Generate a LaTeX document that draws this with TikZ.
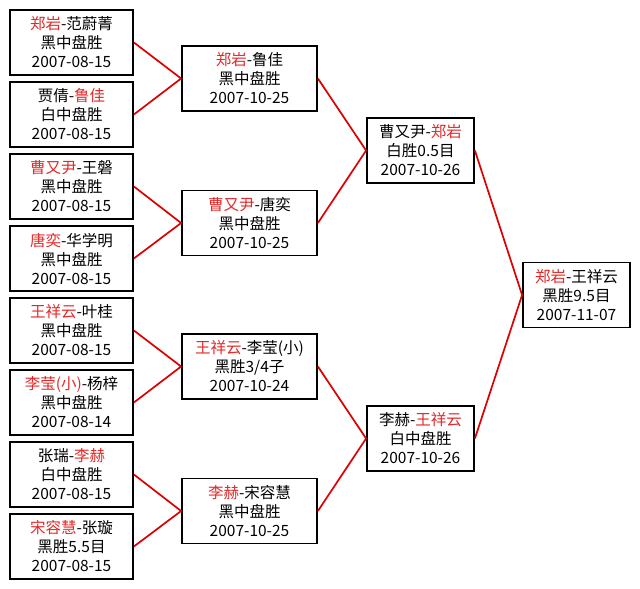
\documentclass[tikz,border=0pt]{standalone}
\usepackage{fontspec}
\setmainfont{Noto Sans CJK SC}
\usepackage{tikz}
\usetikzlibrary{positioning}

\definecolor{winred}{RGB}{228,40,40}
\definecolor{linered}{RGB}{222,0,0}
\newcommand{\win}[1]{\textcolor{winred}{#1}}

\begin{document}
\begin{tikzpicture}[
        x=1pt, y=-1pt,
        gamebox/.style={rectangle, draw=black, fill=white, line width=1.8pt, minimum height=65pt, align=center, inner sep=0pt, font=\fontsize{15.5}{19}\selectfont},
        firstbox/.style={gamebox, minimum width=123pt},
        secondbox/.style={gamebox, minimum width=135pt},
        thirdbox/.style={gamebox, minimum width=107pt},
        winline/.style={draw=linered, line width=1.7pt}
    ]
        \useasboundingbox (0,0) rectangle (640,589);

        % first round
        \node[firstbox] (f1) at (71.5,42.5) {\win{郑岩}-范蔚菁\\黑中盘胜\\2007-08-15};
        \node[firstbox] (f2) at (71.5,114.5) {贾倩-\win{鲁佳}\\白中盘胜\\2007-08-15};
        \node[firstbox] (f3) at (71.5,186.5) {\win{曹又尹}-王磐\\黑中盘胜\\2007-08-15};
        \node[firstbox] (f4) at (71.5,258.5) {\win{唐奕}-华学明\\黑中盘胜\\2007-08-15};
        \node[firstbox] (f5) at (71.5,330.5) {\win{王祥云}-叶桂\\黑中盘胜\\2007-08-15};
        \node[firstbox] (f6) at (71.5,402.5) {\win{李莹(小)}-杨梓\\黑中盘胜\\2007-08-14};
        \node[firstbox] (f7) at (71.5,474.5) {张瑞-\win{李赫}\\白中盘胜\\2007-08-15};
        \node[firstbox] (f8) at (71.5,546.5) {\win{宋容慧}-张璇\\黑胜5.5目\\2007-08-15};

        % second round
        \node[secondbox] (s1) at (249.5,78.5) {\win{郑岩}-鲁佳\\黑中盘胜\\2007-10-25};
        \node[secondbox] (s2) at (249.5,223) {\win{曹又尹}-唐奕\\黑中盘胜\\2007-10-25};
        \node[secondbox] (s3) at (249.5,366.5) {\win{王祥云}-李莹(小)\\黑胜3/4子\\2007-10-24};
        \node[secondbox] (s4) at (249.5,511) {\win{李赫}-宋容慧\\黑中盘胜\\2007-10-25};

        % semi final
        \node[thirdbox] (t1) at (420.5,150.5) {曹又尹-\win{郑岩}\\白胜0.5目\\2007-10-26};
        \node[thirdbox] (t2) at (420.5,438.5) {李赫-\win{王祥云}\\白中盘胜\\2007-10-26};

        % final
        \node[thirdbox] (fin) at (576.5,295) {\win{郑岩}-王祥云\\黑胜9.5目\\2007-11-07};

        \draw[winline] (f1.east) -- (s1.west) -- (f2.east);
        \draw[winline] (f3.east) -- (s2.west) -- (f4.east);
        \draw[winline] (f5.east) -- (s3.west) -- (f6.east);
        \draw[winline] (f7.east) -- (s4.west) -- (f8.east);
        \draw[winline] (s1.east) -- (t1.west) -- (s2.east);
        \draw[winline] (s3.east) -- (t2.west) -- (s4.east);
        \draw[winline] (t1.east) -- (fin.west) -- (t2.east);
    \end{tikzpicture}
\end{document}
